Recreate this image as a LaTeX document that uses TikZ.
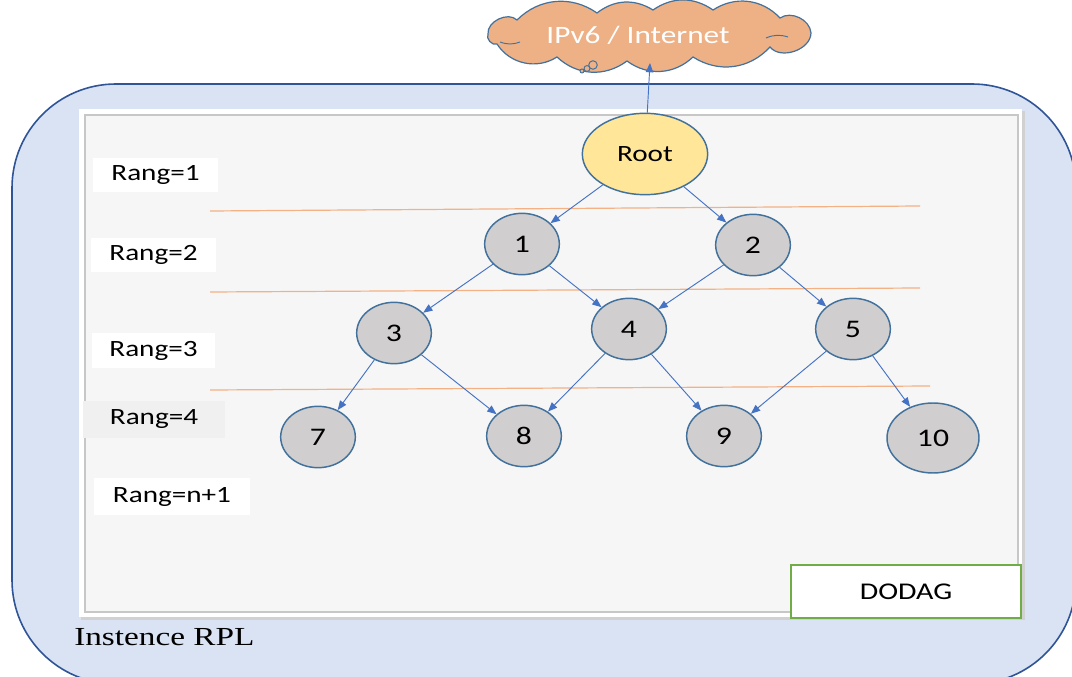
\documentclass[tikz,border=0pt]{standalone}
\usepackage{fontspec}
\setmainfont{Carlito}[FakeStretch=1.25]
\newfontfamily\serifrpl{Liberation Serif}[FakeStretch=1.28]
\usetikzlibrary{shapes.geometric,arrows.meta}
\definecolor{outerfill}{HTML}{DAE3F3}
\definecolor{outerline}{HTML}{2F5597}
\definecolor{nodefill}{HTML}{D0CECE}
\definecolor{nodeline}{HTML}{41719C}
\definecolor{rootfill}{HTML}{FFE699}
\definecolor{cloudfill}{HTML}{EEB085}
\definecolor{ranklinecol}{HTML}{F4B183}
\definecolor{arrowcol}{HTML}{4472C4}
\definecolor{dodagline}{HTML}{70AD47}
\definecolor{panelfill}{HTML}{F6F6F6}
\newcommand\myfs[1]{\fontsize{#1}{#1}\selectfont}
\begin{document}
\begin{tikzpicture}[x=0.75pt,y=-0.75pt,
  dnode/.style={ellipse,draw=nodeline,line width=1.1pt,fill=nodefill,minimum width=56pt,minimum height=46pt,inner sep=0pt,font=\myfs{19pt}},
  bignode/.style={dnode,minimum width=69pt,minimum height=52.5pt},
  rootnode/.style={ellipse,draw=nodeline,line width=1.1pt,fill=rootfill,minimum width=94pt,minimum height=61pt,inner sep=0pt,font=\myfs{17.5pt}},
  link/.style={draw=arrowcol,line width=0.7pt,-{Triangle[length=7pt,width=5.5pt]}},
  rangbox/.style={fill=white,inner sep=0pt,font=\myfs{17.5pt}},
  rankrule/.style={draw=ranklinecol,line width=0.9pt},
  cloudline/.style={draw=nodeline,line width=0.9pt,fill=cloudfill}
]
\useasboundingbox (0,0) rectangle (1072,677);
\clip (0,0) rectangle (1072,677);
% outer instance
\draw[draw=outerline,fill=outerfill,line width=1.2pt,rounded corners=78pt] (12,84) rectangle (1076,684);
% panel
\fill[black!18] (81,111) rectangle (1025,620);
\fill[white] (79,109) rectangle (1022,617);
\draw[draw=black!22,fill=panelfill,line width=1pt] (85,115) rectangle (1018,612);
% rank lines
\draw[rankrule] (210,211) -- (920,206);
\draw[rankrule] (210,292) -- (920,288);
\draw[rankrule] (210,390) -- (930,386);
% rank labels
\node[rangbox,minimum width=93.75pt,minimum height=25.5pt] (r1) at (155.5,175) {Rang=1};
\node[rangbox,minimum width=93.75pt,minimum height=25.5pt] (r2) at (153.5,255) {Rang=2};
\node[rangbox,minimum width=92pt,minimum height=26pt] (r3) at (153.5,350.5) {Rang=3};
\node[rangbox,fill=black!6,minimum width=106.5pt,minimum height=27.75pt] (r4) at (154,419.5) {Rang=4};
\node[rangbox,minimum width=117pt,minimum height=27.75pt] (rn) at (172,496.5) {Rang=n+1};
% cloud
\draw[cloudline] (488,34) to[bend left=70] (517,20) to[bend left=40] (597,13)
  to[bend left=35] (653,10) to[bend left=35] (713,10) to[bend left=40] (780,18)
  to[bend left=60] (811,33) to[bend left=70] (770,47) to[bend left=40] (693,57)
  to[bend left=40] (627,61) to[bend left=40] (557,57) to[bend left=45] (497,44)
  to[bend left=70] (488,34) -- cycle;
\draw[draw=nodeline,line width=0.7pt] (520,42) to[bend left=20] (500,42);
\draw[draw=nodeline,line width=0.7pt] (766,38) to[bend left=20] (788,37);
\draw[draw=nodeline,fill=cloudfill,line width=0.7pt] (593,65) circle (3.2pt);
\draw[draw=nodeline,fill=cloudfill,line width=0.7pt] (587,68.5) circle (2.2pt);
\draw[draw=nodeline,fill=cloudfill,line width=0.7pt] (582,71) circle (1.5pt);
\node[inner sep=0pt,text=white,font=\myfs{18.75pt}] (cloud) at (638,35) {IPv6 / Internet};
\coordinate (cloudbot) at (650,63);
% nodes
\node[rootnode] (root) at (645,154) {Root};
\node[dnode] (n1) at (522,244) {1};
\node[dnode] (n2) at (753,245) {2};
\node[dnode] (n3) at (394,333) {3};
\node[dnode] (n4) at (629,329) {4};
\node[dnode] (n5) at (853,329) {5};
\node[dnode] (n7) at (318,437) {7};
\node[dnode] (n8) at (524,436) {8};
\node[dnode] (n9) at (724,436) {9};
\node[bignode] (n10) at (933,438) {10};
% links
\draw[link] (root) -- (cloudbot);
\draw[link] (root) -- (n1);
\draw[link] (root) -- (n2);
\draw[link] (n1) -- (n3);
\draw[link] (n1) -- (n4);
\draw[link] (n2) -- (n4);
\draw[link] (n2) -- (n5);
\draw[link] (n3) -- (n7);
\draw[link] (n3) -- (n8);
\draw[link] (n4) -- (n8);
\draw[link] (n4) -- (n9);
\draw[link] (n5) -- (n9);
\draw[link] (n5) -- (n10);
% dodag
\node[draw=dodagline,fill=white,line width=1pt,minimum width=172.5pt,minimum height=39.75pt,inner sep=0pt,font=\myfs{18pt}] (dodag) at (906,591.5) {DODAG};
% instance label
\node[anchor=west,inner sep=0pt,font=\serifrpl\myfs{19.5pt}] (inst) at (74,637) {Instence RPL};
\end{tikzpicture}
\end{document}
